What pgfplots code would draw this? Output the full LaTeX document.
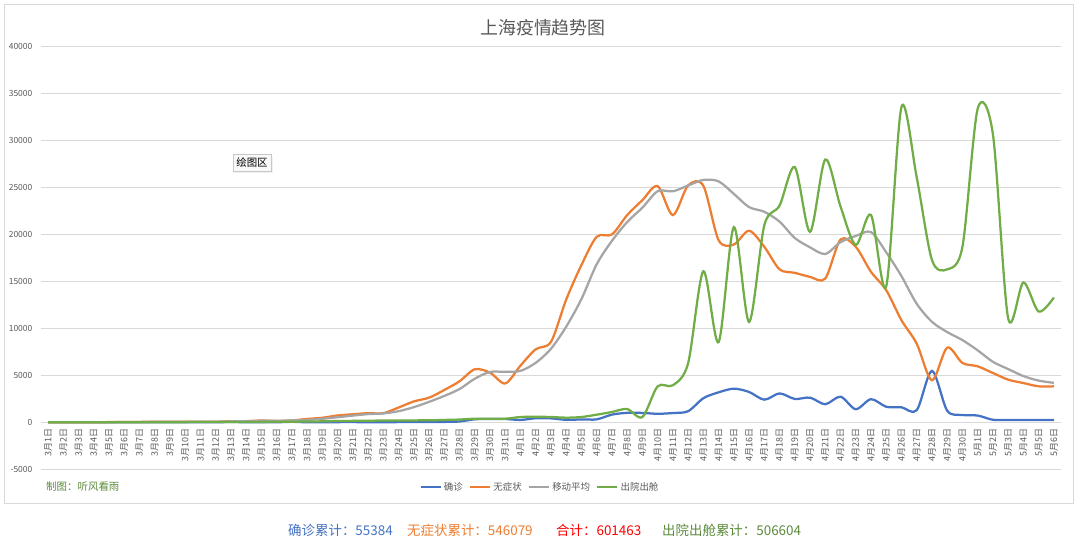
\documentclass[border=0pt]{standalone}
\usepackage{pgfplots}
\pgfplotsset{compat=1.18}
\usepackage{pgfplotstable}
\usepackage{fontspec}
\setmainfont{Noto Sans CJK SC}
\usetikzlibrary{shadows}
\definecolor{cblue}{HTML}{4472C4}
\definecolor{corange}{HTML}{ED7D31}
\definecolor{cgray}{HTML}{A5A5A5}
\definecolor{cgreen}{HTML}{70AD47}
\definecolor{txtgray}{HTML}{595959}
\definecolor{gridc}{HTML}{D9D9D9}
\definecolor{dkgreen}{HTML}{5B8A3C}
\definecolor{totred}{HTML}{FF0000}
\newcommand\fs[1]{\fontsize{#1}{#1}\selectfont}

\pgfplotstableread{
x c a m d
0 1 1 2 10
1 0 2 2 10
2 2 14 7 10
3 3 16 12 15
4 0 28 21 15
5 3 45 32 20
6 4 51 44 20
7 3 62 56 20
8 4 76 67 25
9 11 64 73 25
10 5 78 79 30
11 1 64 74 30
12 41 128 106 40
13 9 130 124 40
14 5 197 170 50
15 8 150 166 60
16 57 203 207 70
17 8 366 264 90
18 17 492 381 110
19 24 734 547 140
20 31 865 721 160
21 4 977 878 180
22 4 979 953 190
23 29 1580 1191 200
24 38 2231 1620 210
25 45 2631 2185 220
26 50 3450 2815 260
27 96 4381 3551 300
28 326 5656 4653 390
29 355 5298 5371 380
30 358 4144 5379 390
31 260 6051 5489 570
32 438 7788 6346 600
33 425 8581 7848 570
34 268 13086 10195 500
35 311 16766 13146 570
36 322 19770 16841 820
37 824 20020 19338 1100
38 1015 22080 21344 1420
39 1006 23680 22875 570
40 914 25170 24622 3840
41 994 22080 24615 3950
42 1189 25250 25232 6300
43 2573 25200 25829 16100
44 3200 19410 25674 8550
45 3590 18950 24341 20800
46 3238 20410 22933 10700
47 2417 18700 22435 21000
48 3084 16300 21383 23100
49 2494 15930 19642 27200
50 2634 15500 18647 20300
51 1931 15320 17936 28000
52 2736 19480 19200 23000
53 1401 18700 19856 18900
54 2472 16040 20276 22100
55 1661 14080 18118 14500
56 1606 10880 15580 33600
57 1292 8390 12636 26100
58 5487 4480 10712 17300
59 1249 7960 9619 16300
60 788 6330 8765 18700
61 727 5970 7675 33400
62 274 5260 6450 30700
63 260 4550 5680 11100
64 261 4190 4932 14900
65 245 3840 4449 11800
66 253 3840 4210 13300
}\datatable

\begin{document}
\begin{tikzpicture}
\path[use as bounding box] (0,0) rectangle (1080bp,547bp);
\draw[gridc, line width=0.8bp] (4bp,44bp) rectangle (1073bp,543bp);
\node[text=txtgray, font=\fs{18}] at (543bp,519bp) {上海疫情趋势图};
\begin{axis}[
  at={(40.5bp,77.7bp)}, anchor=south west,
  scale only axis, width=1021bp, height=422.4bp,
  xmin=-0.5, xmax=66.5, ymin=-5000, ymax=40000,
  ytick={-5000,0,5000,10000,15000,20000,25000,30000,35000,40000},
  scaled y ticks=false,
  ymajorgrids, major grid style={gridc, line width=0.9bp},
  axis x line*=middle, axis y line*=left,
  axis line style={draw=none}, tick style={draw=none},
  xtick={0,...,66},
  xticklabels={3月1日,3月2日,3月3日,3月4日,3月5日,3月6日,3月7日,3月8日,3月9日,3月10日,3月11日,3月12日,3月13日,3月14日,3月15日,3月16日,3月17日,3月18日,3月19日,3月20日,3月21日,3月22日,3月23日,3月24日,3月25日,3月26日,3月27日,3月28日,3月29日,3月30日,3月31日,4月1日,4月2日,4月3日,4月4日,4月5日,4月6日,4月7日,4月8日,4月9日,4月10日,4月11日,4月12日,4月13日,4月14日,4月15日,4月16日,4月17日,4月18日,4月19日,4月20日,4月21日,4月22日,4月23日,4月24日,4月25日,4月26日,4月27日,4月28日,4月29日,4月30日,5月1日,5月2日,5月3日,5月4日,5月5日,5月6日},
  x tick label style={rotate=90, anchor=east, font=\fs{9}, text=txtgray, inner sep=0pt},
  xticklabel shift=6bp,
  y tick label style={font=\fs{8.5}, text=txtgray, inner sep=0pt},
  yticklabel shift=8bp,
  /pgf/number format/.cd, 1000 sep={}, assume math mode=true,
  /pgfplots/.cd,
  legend columns=4,
  legend style={at={(0.4892,-0.0419)}, anchor=center, draw=none, fill=none,
    font=\fs{9.5}, text=txtgray,
    /tikz/every even column/.append style={column sep=4bp}},
  legend image code/.code={\draw[#1, line width=2.5bp] (0bp,0bp) -- (20bp,0bp);},
  every axis plot/.append style={line width=2.25bp, smooth, no markers},
]
\addplot[cblue] table[x=x, y=c] {\datatable};
\addlegendentry{确诊}
\addplot[corange] table[x=x, y=a] {\datatable};
\addlegendentry{无症状}
\addplot[cgray] table[x=x, y=m] {\datatable};
\addlegendentry{移动平均}
\addplot[cgreen] table[x=x, y=d] {\datatable};
\addlegendentry{出院出舱}
\end{axis}
\node[anchor=west, inner sep=0pt, text=dkgreen, font=\fs{10.5}] at (46bp,60bp) {制图：听风看雨};
\node[draw={rgb,255:red,200;green,200;blue,200}, fill={rgb,255:red,248;green,248;blue,248},
  drop shadow={opacity=0.12, shadow xshift=1.5bp, shadow yshift=-2bp},
  font=\fs{10.5}, inner xsep=3.5bp, inner ysep=3.5bp, line width=0.5bp] at (252bp,384bp) {绘图区};
\node[anchor=west, inner sep=0pt, text=cblue, font=\fs{13.5}] at (288bp,17bp) {确诊累计：55384};
\node[anchor=west, inner sep=0pt, text=corange, font=\fs{13.5}] at (407bp,17bp) {无症状累计：546079};
\node[anchor=west, inner sep=0pt, text=totred, font=\fs{13.5}] at (556bp,17bp) {合计：601463};
\node[anchor=west, inner sep=0pt, text=dkgreen, font=\fs{13.5}] at (662bp,17bp) {出院出舱累计：506604};
\end{tikzpicture}
\end{document}
